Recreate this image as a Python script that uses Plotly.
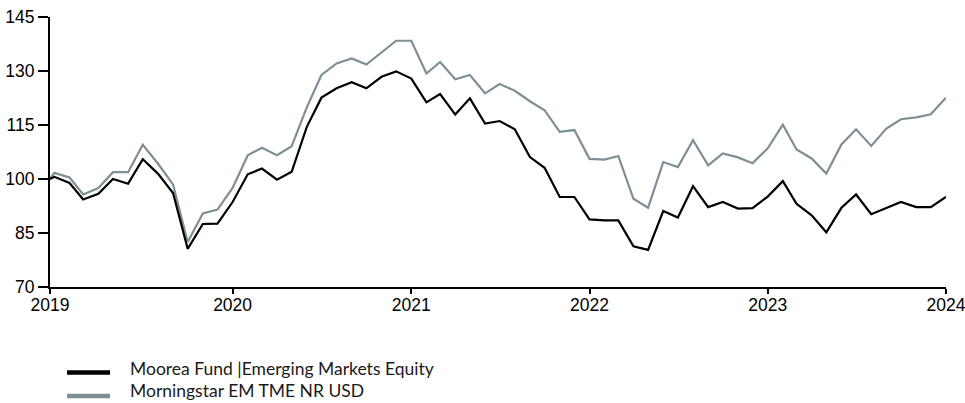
import pandas as pd
import plotly.graph_objects as go

# ---- data ----
start_date = "2018-12-23"
month_dates = [d.strftime("%Y-%m-%d") for d in pd.date_range("2019-01-01", "2024-01-01", freq="MS")]
dates = [start_date] + month_dates

fund_name = "Moorea Fund |Emerging Markets Equity"
bench_name = "Morningstar EM TME NR USD"

fund_values = [
    100.0,
    100.6, 98.9, 94.3, 95.9, 100.0, 98.7, 105.5, 101.5, 96.1, 80.6, 87.5, 87.6,
    93.6, 101.3, 102.9, 99.8, 102.0, 114.5, 122.6, 125.2, 126.9, 125.2, 128.4, 129.9,
    127.9, 121.3, 123.6, 117.9, 122.4, 115.4, 116.1, 113.8, 106.1, 103.1, 95.0, 95.0,
    88.8, 88.5, 88.5, 81.3, 80.3, 91.1, 89.3, 98.0, 92.2, 93.6, 91.8, 91.9,
    95.1, 99.4, 93.1, 89.9, 85.2, 92.0, 95.7, 90.2, 91.9, 93.6, 92.2, 92.2,
    95.0,
]

bench_values = [
    100.0,
    101.7, 100.4, 95.7, 97.5, 101.9, 101.9, 109.5, 104.3, 98.5, 82.5, 90.4, 91.5,
    97.5, 106.6, 108.7, 106.6, 109.1, 119.9, 128.9, 132.1, 133.5, 131.8, 135.2, 138.4,
    138.4, 129.3, 132.5, 127.7, 128.9, 123.8, 126.4, 124.5, 121.6, 119.1, 113.1, 113.6,
    105.6, 105.4, 106.4, 94.5, 92.0, 104.7, 103.3, 110.8, 103.8, 107.1, 106.0, 104.4,
    108.5, 115.1, 108.2, 105.7, 101.5, 109.6, 113.8, 109.2, 114.0, 116.6, 117.1, 118.0,
    122.6,
]

x_tick_vals = [start_date, "2020-01-01", "2021-01-01", "2022-01-01", "2023-01-01", "2024-01-01"]
x_tick_text = ["2019", "2020", "2021", "2022", "2023", "2024"]
y_tick_vals = [70, 85, 100, 115, 130, 145]
x_range = [start_date, "2024-01-01 04:00"]

# ---- style ----
FUND_COLOR = "#000000"
BENCH_COLOR = "#7e8f96"
TICK_FONT = dict(family="Liberation Sans", size=17.5, color="#000000")
LEGEND_FONT = dict(family="Lato", size=17.5, color="#1a1a1a")

fig = go.Figure()
fig.add_trace(go.Scatter(x=dates, y=bench_values, mode="lines", name=bench_name,
                         line=dict(color=BENCH_COLOR, width=2.2), showlegend=False))
fig.add_trace(go.Scatter(x=dates, y=fund_values, mode="lines", name=fund_name,
                         line=dict(color=FUND_COLOR, width=2.2), showlegend=False))

fig.update_xaxes(
    type="date", range=x_range, automargin=False, ticklabeloverflow="allow",
    ticklabelstandoff=-4,
    tickmode="array", tickvals=x_tick_vals, ticktext=x_tick_text,
    showgrid=False, zeroline=False, showline=True, linecolor="#000000", linewidth=2,
    ticks="outside", ticklen=5, tickwidth=1.5, tickcolor="#000000", tickfont=TICK_FONT,
)
fig.update_yaxes(
    range=[70, 145], tickmode="array", tickvals=y_tick_vals, automargin=False,
    ticklabeloverflow="allow",
    showgrid=False, zeroline=False, showline=True, linecolor="#000000", linewidth=2,
    ticks="outside", ticklen=10, tickwidth=1.5, tickcolor="#000000", tickfont=TICK_FONT,
)

# custom legend below the plot
legend_items = [(fund_name, FUND_COLOR, -0.317, -0.30), (bench_name, BENCH_COLOR, -0.404, -0.385)]
for name, color, ly, ty in legend_items:
    fig.add_shape(type="line", xref="paper", yref="paper", x0=0.019, x1=0.067, y0=ly, y1=ly,
                  line=dict(color=color, width=4.5))
    fig.add_annotation(x=0.087, y=ty, xref="paper", yref="paper", text=name, showarrow=False,
                       xanchor="left", yanchor="middle", font=LEGEND_FONT)

fig.update_layout(
    width=965, height=403,
    margin=dict(l=50, r=19, t=17, b=116),
    plot_bgcolor="white", paper_bgcolor="white",
    font=dict(family="Liberation Sans"),
)

fig.write_html("out.html", config={"displayModeBar": False},
               post_script="document.body.style.margin='0';")
